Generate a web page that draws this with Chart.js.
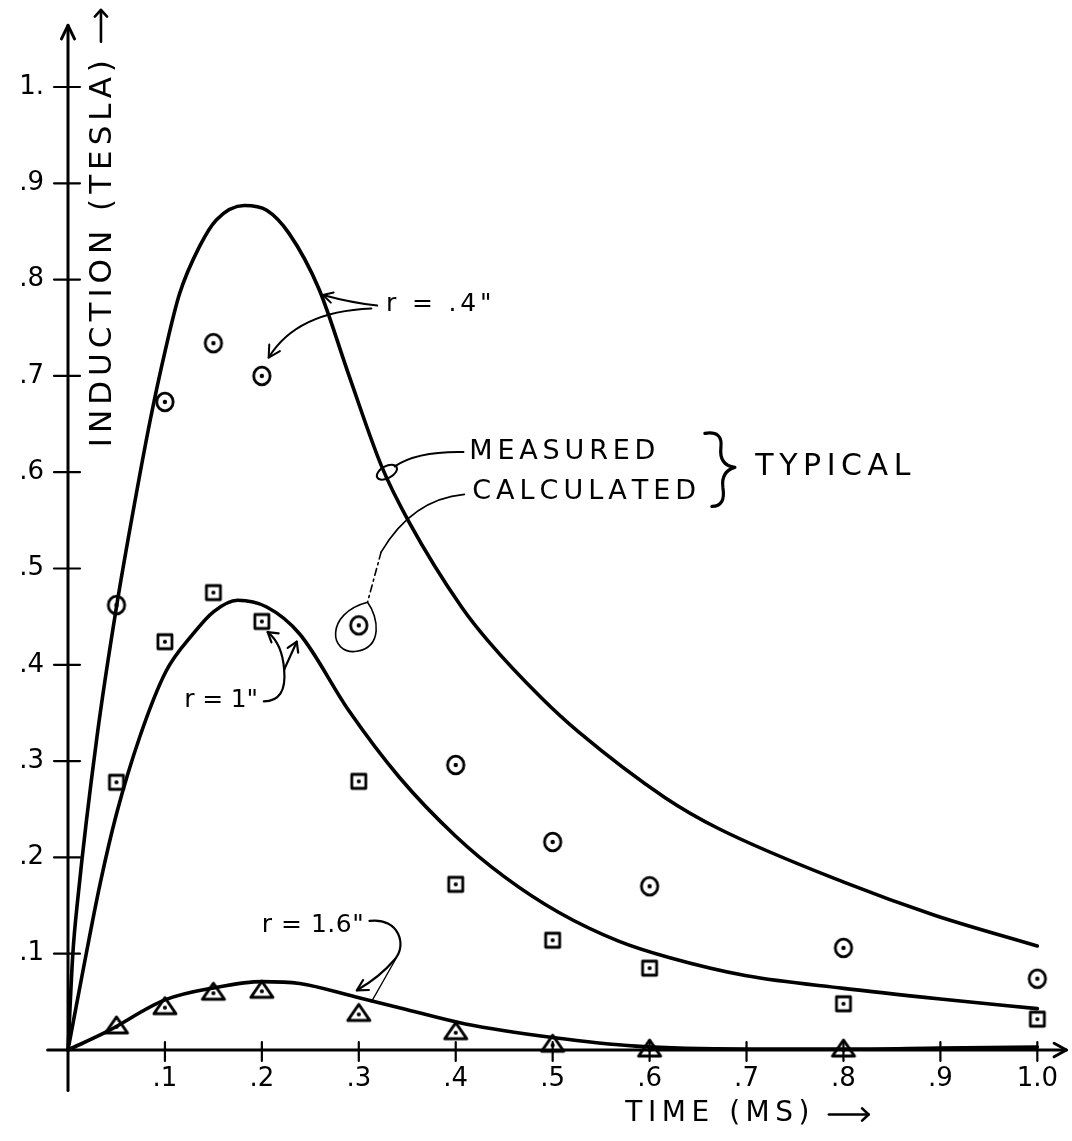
<!DOCTYPE html>
<html>
<head>
<meta charset="utf-8">
<style>
  html, body { margin: 0; padding: 0; background: #ffffff; }
  #wrap { width: 1072px; height: 1141px; position: relative; }
  canvas { display: block; }
</style>
<script src="https://cdn.jsdelivr.net/npm/chart.js@4.4.1/dist/chart.umd.min.js"></script>
</head>
<body>
<div id="wrap"><canvas id="c" width="1072" height="1141"></canvas></div>
<script>
// ---------------- DATA ----------------
// Measured points (symbols)
const measuredTime = [0.05, 0.1, 0.15, 0.2, 0.3, 0.4, 0.5, 0.6, 0.8, 1.0];
const measuredR04  = [0.462, 0.673, 0.734, 0.700, 0.441, 0.296, 0.216, 0.170, 0.106, 0.074]; // circles, r = .4"
const measuredR1   = [0.278, 0.424, 0.475, 0.445, 0.279, 0.172, 0.114, 0.085, 0.048, 0.032]; // squares, r = 1"
const triangleTime = [0.05, 0.1, 0.15, 0.2, 0.3, 0.4, 0.5, 0.6, 0.8];
const measuredR16  = [0.025, 0.045, 0.060, 0.062, 0.038, 0.019, 0.006, 0.001, 0.001];     // triangles, r = 1.6"

// Calculated curves (solid lines)
const calcTimeR04 = [0, 0.005, 0.01, 0.03, 0.05, 0.07, 0.085, 0.1, 0.115, 0.136, 0.153, 0.182, 0.205, 0.228, 0.259, 0.29, 0.324, 0.352, 0.406, 0.434, 0.488, 0.527, 0.616, 0.671, 0.801, 0.894, 1.0];
const calcR04     = [0, 0.10, 0.156, 0.326, 0.46, 0.575, 0.655, 0.725, 0.785, 0.835, 0.862, 0.877, 0.872, 0.848, 0.79, 0.70, 0.605, 0.548, 0.46, 0.424, 0.366, 0.33, 0.262, 0.23, 0.174, 0.14, 0.108];
const calcTimeR1  = [0, 0.015, 0.033, 0.05, 0.074, 0.101, 0.129, 0.15, 0.175, 0.205, 0.239, 0.29, 0.342, 0.4, 0.45, 0.506, 0.568, 0.62, 0.7, 0.8, 0.9, 1.0];
const calcR1      = [0, 0.08, 0.172, 0.245, 0.325, 0.393, 0.432, 0.455, 0.467, 0.46, 0.432, 0.352, 0.283, 0.222, 0.18, 0.143, 0.113, 0.096, 0.077, 0.064, 0.053, 0.043];
const calcTimeR16 = [0, 0.04, 0.1, 0.153, 0.2, 0.239, 0.297, 0.349, 0.41, 0.5, 0.586, 0.7, 0.8, 0.9, 1.0];
const calcR16     = [0, 0.019, 0.052, 0.065, 0.071, 0.069, 0.055, 0.042, 0.027, 0.013, 0.004, 0.001, 0.001, 0.002, 0.003];

// Ticks
const xTickValues = [0.1, 0.2, 0.3, 0.4, 0.5, 0.6, 0.7, 0.8, 0.9, 1.0];
const xTickLabels = ['.1', '.2', '.3', '.4', '.5', '.6', '.7', '.8', '.9', '1.0'];
const yTickValues = [0.1, 0.2, 0.3, 0.4, 0.5, 0.6, 0.7, 0.8, 0.9, 1.0];
const yTickLabels = ['.1', '.2', '.3', '.4', '.5', '.6', '.7', '.8', '.9', '1.'];

// Texts
const yTitle = 'INDUCTION (TESLA)';
const xTitle = 'TIME (MS)';
const labelR04 = 'r = .4"';
const labelR1 = 'r = 1"';
const labelR16 = 'r = 1.6"';
const labelMeasured = 'MEASURED';
const labelCalculated = 'CALCULATED';
const labelTypical = 'TYPICAL';

// ---------------- STYLE ----------------
const INK = '#000000';
const FONT = '"DejaVu Sans", "Liberation Sans", sans-serif';

function makeMarker(kind) {
  const c = document.createElement('canvas');
  const g = c.getContext('2d');
  if (kind === 'circle') {
    c.width = 24; c.height = 24;
    g.strokeStyle = INK; g.lineWidth = 2.8;
    g.beginPath(); g.ellipse(12, 12, 8.2, 8.8, 0, 0, Math.PI * 2); g.stroke();
    g.fillStyle = INK; g.beginPath(); g.arc(12, 12, 2.2, 0, Math.PI * 2); g.fill();
  } else if (kind === 'square') {
    c.width = 22; c.height = 22;
    g.strokeStyle = INK; g.lineWidth = 2.8; g.lineJoin = 'round';
    g.strokeRect(4, 4, 14, 14);
    g.fillStyle = INK; g.beginPath(); g.arc(11, 11, 2.1, 0, Math.PI * 2); g.fill();
  } else {
    c.width = 28; c.height = 24;
    g.strokeStyle = INK; g.lineWidth = 3; g.lineJoin = 'round';
    g.beginPath(); g.moveTo(14, 3); g.lineTo(25, 19); g.lineTo(3, 19); g.closePath(); g.stroke();
    g.fillStyle = INK; g.beginPath(); g.arc(14, 13, 2.1, 0, Math.PI * 2); g.fill();
  }
  return c;
}
const circleImg = makeMarker('circle');
const squareImg = makeMarker('square');
const triangleImg = makeMarker('triangle');

const pts = (xs, ys) => xs.map((x, i) => ({ x: x, y: ys[i] }));

// ---------------- HELPERS ----------------
function P(chart, xv, yv) {
  return [chart.scales.x.getPixelForValue(xv), chart.scales.y.getPixelForValue(yv)];
}
function arrowHead(ctx, tip, from, len, spread) {
  len = len || 12; spread = spread || 0.5;
  const a = Math.atan2(tip[1] - from[1], tip[0] - from[0]);
  ctx.beginPath();
  ctx.moveTo(tip[0] - len * Math.cos(a - spread), tip[1] - len * Math.sin(a - spread));
  ctx.lineTo(tip[0], tip[1]);
  ctx.lineTo(tip[0] - len * Math.cos(a + spread), tip[1] - len * Math.sin(a + spread));
  ctx.stroke();
}
function spacedText(ctx, text, x, y, width) {
  const chars = Array.from(text);
  const ws = chars.map(ch => ctx.measureText(ch).width);
  const total = ws.reduce((a, b) => a + b, 0);
  const gap = chars.length > 1 ? (width - total) / (chars.length - 1) : 0;
  let cx = x;
  ctx.textAlign = 'left';
  ctx.textBaseline = 'middle';
  chars.forEach((ch, i) => { ctx.fillText(ch, cx, y); cx += ws[i] + gap; });
}

// Axes with arrows and crossing tick marks
const axesPlugin = {
  id: 'handAxes',
  beforeDatasetsDraw(chart) {
    const ctx = chart.ctx;
    ctx.save();
    ctx.strokeStyle = INK; ctx.lineCap = 'round'; ctx.lineJoin = 'round';
    // x axis
    const xa = P(chart, -0.021, 0), xb = P(chart, 1.03, 0);
    ctx.lineWidth = 3;
    ctx.beginPath(); ctx.moveTo(xa[0], xa[1]); ctx.lineTo(xb[0], xb[1]); ctx.stroke();
    arrowHead(ctx, xb, xa, 14, 0.5);
    // y axis
    const ya = P(chart, 0, -0.042), yb = P(chart, 0, 1.064);
    ctx.beginPath(); ctx.moveTo(ya[0], ya[1]); ctx.lineTo(yb[0], yb[1]); ctx.stroke();
    arrowHead(ctx, yb, ya, 15, 0.45);
    // tick marks
    ctx.lineWidth = 2.2;
    yTickValues.forEach(v => {
      const p = P(chart, 0, v);
      ctx.beginPath(); ctx.moveTo(p[0] - 14, p[1]); ctx.lineTo(p[0] + 12, p[1]); ctx.stroke();
    });
    xTickValues.forEach(v => {
      const p = P(chart, v, 0);
      ctx.beginPath(); ctx.moveTo(p[0], p[1] - 8); ctx.lineTo(p[0], p[1] + 11); ctx.stroke();
    });
    ctx.restore();
  }
};

// Titles and hand annotations
const notesPlugin = {
  id: 'handNotes',
  afterDatasetsDraw(chart) {
    const ctx = chart.ctx;
    ctx.save();
    ctx.fillStyle = INK; ctx.strokeStyle = INK;
    ctx.lineCap = 'round'; ctx.lineJoin = 'round';

    // Y title (rotated, inside plot)
    const yt0 = P(chart, 0.036, 0.626), yt1 = P(chart, 0.036, 1.028);
    ctx.save();
    ctx.translate(yt0[0], yt0[1]);
    ctx.rotate(-Math.PI / 2);
    ctx.font = '31px ' + FONT;
    spacedText(ctx, yTitle, 0, 0, yt0[1] - yt1[1]);
    ctx.restore();
    // its arrow
    const ya0 = P(chart, 0.034, 1.047), ya1 = P(chart, 0.034, 1.080);
    ctx.lineWidth = 2.6;
    ctx.beginPath(); ctx.moveTo(ya0[0], ya0[1]); ctx.lineTo(ya1[0], ya1[1]); ctx.stroke();
    arrowHead(ctx, ya1, ya0, 9, 0.75);

    // X title
    const xt0 = P(chart, 0.575, -0.066), xt1 = P(chart, 0.765, -0.066);
    ctx.font = '28px ' + FONT;
    spacedText(ctx, xTitle, xt0[0], xt0[1], xt1[0] - xt0[0]);
    const xa0 = P(chart, 0.785, -0.067), xa1 = P(chart, 0.826, -0.067);
    ctx.lineWidth = 2.6;
    ctx.beginPath(); ctx.moveTo(xa0[0], xa0[1]); ctx.lineTo(xa1[0], xa1[1]); ctx.stroke();
    arrowHead(ctx, xa1, xa0, 9, 0.75);

    // r = .4"
    ctx.font = '25px ' + FONT;
    const t04 = P(chart, 0.328, 0.774), t04e = P(chart, 0.437, 0.774);
    spacedText(ctx, labelR04, t04[0], t04[1], t04e[0] - t04[0]);
    ctx.lineWidth = 2;
    let a = P(chart, 0.319, 0.773), m = P(chart, 0.292, 0.776), b = P(chart, 0.263, 0.784);
    ctx.beginPath(); ctx.moveTo(a[0], a[1]); ctx.quadraticCurveTo(m[0], m[1], b[0], b[1]); ctx.stroke();
    arrowHead(ctx, b, m, 11, 0.5);
    a = P(chart, 0.313, 0.770); m = P(chart, 0.236, 0.767); b = P(chart, 0.207, 0.719);
    ctx.beginPath(); ctx.moveTo(a[0], a[1]); ctx.quadraticCurveTo(m[0], m[1], b[0], b[1]); ctx.stroke();
    arrowHead(ctx, b, m, 13, 0.5);

    // MEASURED / CALCULATED } TYPICAL
    ctx.font = '27px ' + FONT;
    let tm = P(chart, 0.414, 0.621), tme = P(chart, 0.606, 0.621);
    spacedText(ctx, labelMeasured, tm[0], tm[1], tme[0] - tm[0]);
    let tc = P(chart, 0.417, 0.579), tce = P(chart, 0.648, 0.579);
    spacedText(ctx, labelCalculated, tc[0], tc[1], tce[0] - tc[0]);
    ctx.font = '30px ' + FONT;
    let ty = P(chart, 0.709, 0.605), tye = P(chart, 0.869, 0.605);
    spacedText(ctx, labelTypical, ty[0], ty[1], tye[0] - ty[0]);

    // measured leader + small loop on the curve
    ctx.lineWidth = 2;
    a = P(chart, 0.408, 0.621); m = P(chart, 0.36, 0.622); b = P(chart, 0.337, 0.606);
    ctx.beginPath(); ctx.moveTo(a[0], a[1]); ctx.quadraticCurveTo(m[0], m[1], b[0], b[1]); ctx.stroke();
    const el = P(chart, 0.329, 0.600);
    ctx.beginPath(); ctx.ellipse(el[0], el[1], 11, 6, -0.5, 0, Math.PI * 2); ctx.stroke();

    // calculated leader (solid, then dashed) + loop round circle at .3
    a = P(chart, 0.409, 0.577); m = P(chart, 0.355, 0.572); b = P(chart, 0.323, 0.517);
    ctx.lineWidth = 1.6;
    ctx.beginPath(); ctx.moveTo(a[0], a[1]); ctx.quadraticCurveTo(m[0], m[1], b[0], b[1]); ctx.stroke();
    const d1 = P(chart, 0.309, 0.465);
    ctx.setLineDash([7, 4, 2, 4]);
    ctx.beginPath(); ctx.moveTo(b[0], b[1]); ctx.lineTo(d1[0], d1[1]); ctx.stroke();
    ctx.setLineDash([]);
    const cc = P(chart, 0.3, 0.441);
    ctx.beginPath();
    ctx.moveTo(d1[0], d1[1]);
    ctx.bezierCurveTo(cc[0] - 34, cc[1] - 12, cc[0] - 30, cc[1] + 30, cc[0] - 2, cc[1] + 26);
    ctx.bezierCurveTo(cc[0] + 24, cc[1] + 22, cc[0] + 20, cc[1] - 8, d1[0], d1[1]);
    ctx.stroke();

    // brace
    const T = P(chart, 0.688, 0.605);
    ctx.lineWidth = 3.2;
    ctx.beginPath();
    ctx.moveTo(T[0] - 30, T[1] - 34);
    ctx.quadraticCurveTo(T[0] - 12, T[1] - 37, T[0] - 14, T[1] - 20);
    ctx.quadraticCurveTo(T[0] - 16, T[1] - 2, T[0], T[1]);
    ctx.moveTo(T[0], T[1]);
    ctx.quadraticCurveTo(T[0] - 14, T[1] + 4, T[0] - 12, T[1] + 20);
    ctx.quadraticCurveTo(T[0] - 9, T[1] + 39, T[0] - 23, T[1] + 39);
    ctx.stroke();

    // r = 1"
    ctx.font = '25px ' + FONT;
    const t1 = P(chart, 0.12, 0.363), t1e = P(chart, 0.196, 0.363);
    spacedText(ctx, labelR1, t1[0], t1[1], t1e[0] - t1[0]);
    ctx.lineWidth = 2.2;
    a = P(chart, 0.202, 0.362); m = P(chart, 0.226, 0.362); b = P(chart, 0.223, 0.395);
    ctx.beginPath(); ctx.moveTo(a[0], a[1]); ctx.quadraticCurveTo(m[0], m[1], b[0], b[1]); ctx.stroke();
    let tipA = P(chart, 0.206, 0.434), cA = P(chart, 0.221, 0.422);
    ctx.beginPath(); ctx.moveTo(b[0], b[1]); ctx.quadraticCurveTo(cA[0], cA[1], tipA[0], tipA[1]); ctx.stroke();
    arrowHead(ctx, tipA, cA, 11, 0.55);
    let tipB = P(chart, 0.236, 0.424);
    ctx.beginPath(); ctx.moveTo(b[0], b[1]); ctx.lineTo(tipB[0], tipB[1]); ctx.stroke();
    arrowHead(ctx, tipB, b, 11, 0.55);

    // r = 1.6"
    const t16 = P(chart, 0.2, 0.129), t16e = P(chart, 0.305, 0.129);
    spacedText(ctx, labelR16, t16[0], t16[1], t16e[0] - t16[0]);
    a = P(chart, 0.311, 0.134);
    const q1 = P(chart, 0.342, 0.138), q2 = P(chart, 0.35, 0.108), q3 = P(chart, 0.337, 0.094);
    const q4 = P(chart, 0.322, 0.076), tip16 = P(chart, 0.298, 0.062);
    ctx.lineWidth = 2.2;
    ctx.beginPath(); ctx.moveTo(a[0], a[1]);
    ctx.bezierCurveTo(q1[0], q1[1], q2[0], q2[1], q3[0], q3[1]);
    ctx.quadraticCurveTo(q4[0], q4[1], tip16[0], tip16[1]);
    ctx.stroke();
    arrowHead(ctx, tip16, q4, 12, 0.5);
    const s0 = P(chart, 0.339, 0.096), s1 = P(chart, 0.313, 0.05);
    ctx.lineWidth = 1.3;
    ctx.beginPath(); ctx.moveTo(s0[0], s0[1]); ctx.lineTo(s1[0], s1[1]); ctx.stroke();

    ctx.restore();
  }
};

// ---------------- CHART ----------------
const lineStyle = {
  borderColor: INK, borderWidth: 3.6, pointRadius: 0, fill: false,
  cubicInterpolationMode: 'monotone', clip: false, borderCapStyle: 'round', borderJoinStyle: 'round'
};
const markStyle = { showLine: false, pointRadius: 10, clip: false, borderColor: INK, backgroundColor: 'rgba(0,0,0,0)' };

new Chart(document.getElementById('c').getContext('2d'), {
  type: 'line',
  data: {
    datasets: [
      Object.assign({ label: 'r = .4" calculated', data: pts(calcTimeR04, calcR04) }, lineStyle),
      Object.assign({ label: 'r = 1" calculated', data: pts(calcTimeR1, calcR1) }, lineStyle),
      Object.assign({ label: 'r = 1.6" calculated', data: pts(calcTimeR16, calcR16) }, lineStyle),
      Object.assign({ label: 'r = .4" measured', data: pts(measuredTime, measuredR04), pointStyle: circleImg }, markStyle),
      Object.assign({ label: 'r = 1" measured', data: pts(measuredTime, measuredR1), pointStyle: squareImg }, markStyle),
      Object.assign({ label: 'r = 1.6" measured', data: pts(triangleTime, measuredR16), pointStyle: triangleImg }, markStyle)
    ]
  },
  options: {
    responsive: false,
    animation: false,
    devicePixelRatio: 1,
    events: [],
    layout: { padding: { left: 0, top: 87, right: 32, bottom: 0 } },
    plugins: { legend: { display: false }, tooltip: { enabled: false }, title: { display: false } },
    scales: {
      x: {
        type: 'linear', min: 0, max: 1,
        grid: { display: false, drawTicks: false },
        border: { display: false },
        afterBuildTicks: s => { s.ticks = xTickValues.map(v => ({ value: v })); },
        afterFit: s => { s.height = 91; },
        ticks: {
          callback: (v, i) => xTickLabels[i],
          padding: 14, color: INK, maxRotation: 0, autoSkip: false,
          font: { family: FONT, size: 26 }
        }
      },
      y: {
        type: 'linear', min: 0, max: 1,
        grid: { display: false, drawTicks: false },
        border: { display: false },
        afterBuildTicks: s => { s.ticks = yTickValues.map(v => ({ value: v })); },
        afterFit: s => { s.width = 68; },
        ticks: {
          callback: (v, i) => yTickLabels[i],
          padding: 24, color: INK, autoSkip: false,
          font: { family: FONT, size: 26 }
        }
      }
    }
  },
  plugins: [axesPlugin, notesPlugin]
});
</script>
</body>
</html>
